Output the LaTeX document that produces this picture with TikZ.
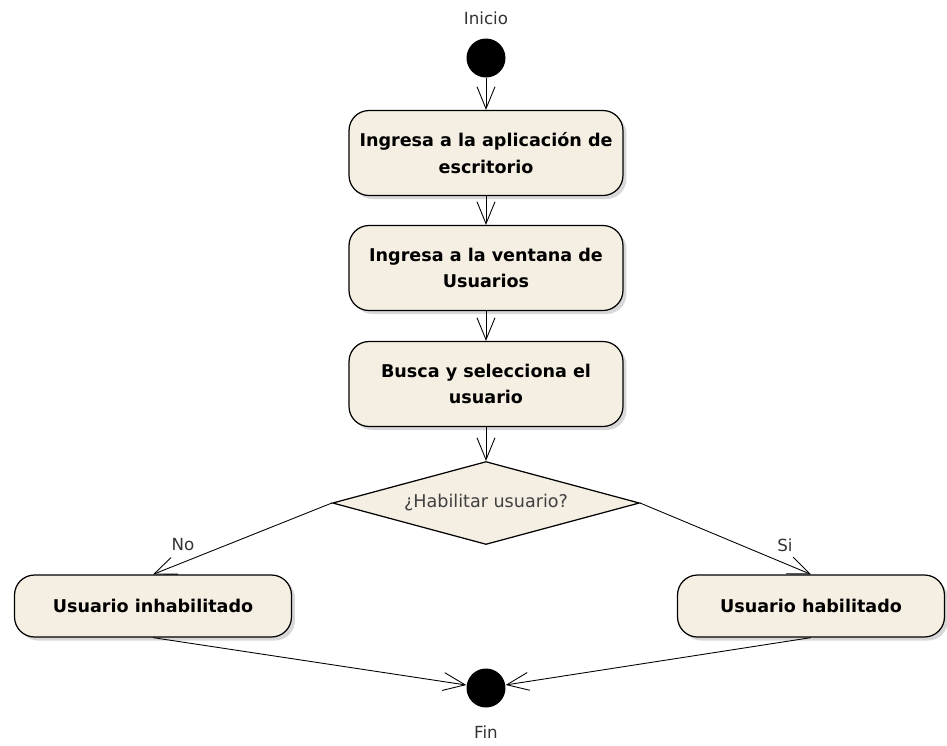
\documentclass[tikz,border=0pt]{standalone}
\usepackage{fontspec}
\setmainfont{DejaVu Sans}
\usetikzlibrary{arrows.meta,shapes.geometric,shadows}
\definecolor{beige}{RGB}{245,238,226}

\begin{document}
\begin{tikzpicture}[x=0.02cm,y=-0.02cm,>={Straight Barb[length=4.4mm,width=3.6mm]},line width=0.5pt,
    accion/.style={draw,line width=0.7pt,rectangle,rounded corners=0.4cm,fill=beige,
      drop shadow={shadow xshift=2pt,shadow yshift=-2pt,fill=black!30},
      align=center,font=\bfseries\fontsize{10}{15}\selectfont},
    estado/.style={circle,fill=black,minimum size=0.78cm,inner sep=0pt},
    rotulo/.style={font=\fontsize{9.5}{11}\selectfont,text=black!80}]
  \useasboundingbox (0,0) rectangle (947,745);
  % inicio
  \node (ini) [estado] at (486,58) {};
  \node (tini) [rotulo] at (486,18) {Inicio};
  % acciones
  \node (acc1) [accion,minimum width=5.48cm,minimum height=1.7cm] at (486,153) {Ingresa a la aplicación de\\escritorio};
  \node (acc2) [accion,minimum width=5.48cm,minimum height=1.7cm] at (486,268) {Ingresa a la ventana de\\Usuarios};
  \node (acc3) [accion,minimum width=5.48cm,minimum height=1.7cm] at (486,384) {Busca y selecciona el\\usuario};
  % decision
  \node (dec) [draw,line width=0.7pt,diamond,aspect=3.7,minimum width=6.14cm,minimum height=1.66cm,inner sep=0pt,
    fill=beige,font=\fontsize{10}{12}\selectfont,text=black!75] at (486,503) {¿Habilitar usuario?};
  \node (noh) [accion,minimum width=5.54cm,minimum height=1.24cm] at (153,606) {Usuario inhabilitado};
  \node (sih) [accion,minimum width=5.34cm,minimum height=1.24cm] at (811,606) {Usuario habilitado};
  % fin
  \node (fin) [estado] at (486,688) {};
  \node (tfin) [rotulo] at (486,732) {Fin};
  % flujos
  \draw [->] (ini) -- (acc1);
  \draw [->] (acc1) -- (acc2);
  \draw [->] (acc2) -- (acc3);
  \draw [->] (acc3) -- (dec);
  \draw [->] (dec.west) -- (noh.north);
  \draw [->] (dec.east) -- (sih.north);
  \node (tno) [rotulo] at (183,545) {No};
  \node (tsi) [rotulo] at (785,545) {Si};
  \draw [->] (noh.south) -- (fin);
  \draw [->] (sih.south) -- (fin);
\end{tikzpicture}
\end{document}
